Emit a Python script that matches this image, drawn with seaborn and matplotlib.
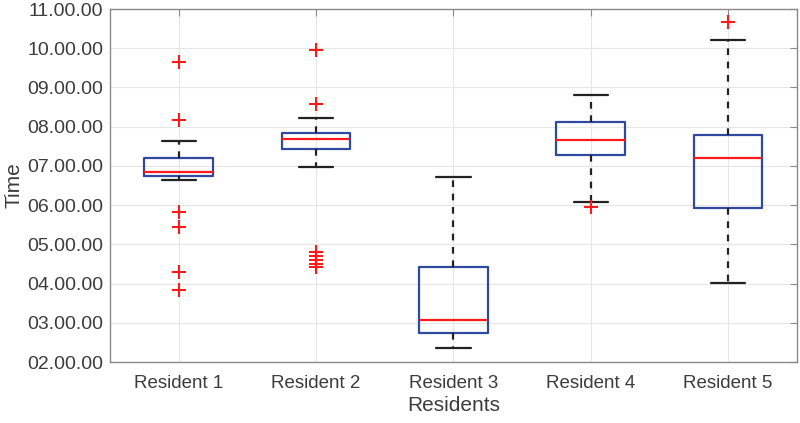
import pandas as pd
import seaborn as sns
import matplotlib.pyplot as plt
from matplotlib.ticker import FuncFormatter

# wake-up times in hours (6.84 -> about 06.50)
residents = ['Resident 1', 'Resident 2', 'Resident 3', 'Resident 4', 'Resident 5']
resident1 = [3.83, 4.30, 5.44, 5.82, 6.63, 6.74, 6.76, 6.78, 6.80, 6.82, 6.84,
             6.90, 6.98, 7.05, 7.12, 7.20, 7.32, 7.48, 7.64, 8.16, 9.64]
resident2 = [4.42, 4.50, 4.60, 4.70, 4.80, 6.96, 7.42, 7.46, 7.50, 7.55, 7.60, 7.64, 7.68,
             7.71, 7.74, 7.77, 7.80, 7.82, 7.84, 7.92, 8.02, 8.12, 8.21, 8.57, 9.96]
resident3 = [2.36, 2.50, 2.62, 2.75, 2.85, 2.96, 3.07, 3.40, 3.90, 4.42, 5.10, 5.90, 6.72]
resident4 = [5.94, 6.07, 6.80, 7.27, 7.40, 7.55, 7.66, 7.80, 7.95, 8.12, 8.35, 8.60, 8.82]
resident5 = [4.02, 4.80, 5.40, 5.93, 6.40, 6.85, 7.20, 7.40, 7.60, 7.78, 8.60, 10.20, 10.68]
hour_ticks = list(range(2, 12))

BLUE = '#3049a0'
RED = '#ff1a1a'
DARK = '#222222'
TXT = '#3c3c3c'

all_times = [resident1, resident2, resident3, resident4, resident5]
df = pd.DataFrame({
    'Residents': [r for r, vals in zip(residents, all_times) for _ in vals],
    'Time': [v for vals in all_times for v in vals],
})

sns.set_theme(style='whitegrid')
plt.rcParams['font.family'] = ['Liberation Sans', 'DejaVu Sans']

fig = plt.figure(figsize=(8, 4.23), dpi=100)
ax = fig.add_axes([0.1375, 0.1442, 0.8585, 0.8345])

sns.boxplot(data=df, x='Residents', y='Time', order=residents, width=0.5, fill=False,
            whis=1.5, ax=ax,
            boxprops=dict(color=BLUE, linewidth=1.6),
            medianprops=dict(color=RED, linewidth=1.6),
            whiskerprops=dict(color=DARK, linewidth=1.6, linestyle=(0, (3, 3))),
            capprops=dict(color=DARK, linewidth=1.6),
            flierprops=dict(marker='+', markeredgecolor=RED, markersize=10,
                            markeredgewidth=1.5),
            capwidths=0.25)

ax.set_ylim(2, 11)
ax.set_xlim(-0.5, 4.5)
ax.set_yticks(hour_ticks)
ax.yaxis.set_major_formatter(FuncFormatter(lambda v, p: '%02d.00.00' % v))
ax.grid(True, color='#e6e6e6', linewidth=0.8)
ax.set_axisbelow(True)
for s in ax.spines.values():
    s.set_color('#8a8a8a')
    s.set_linewidth(1.0)
ax.tick_params(direction='in', top=True, right=True, length=5, color='#8a8a8a',
               width=0.8)
ax.tick_params(axis='y', labelsize=14, labelcolor=TXT, pad=5)
ax.tick_params(axis='x', labelsize=13.5, labelcolor=TXT, pad=9)
ax.set_xlabel('Residents', fontsize=15, color=TXT, labelpad=3)
ax.set_ylabel('Time', fontsize=15, color=TXT, labelpad=2.5)

fig.savefig('out.png', dpi=100)
